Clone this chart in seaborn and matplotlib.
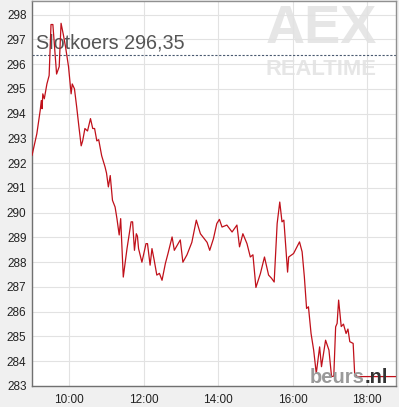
import matplotlib
matplotlib.use("Agg")
import matplotlib.pyplot as plt
import seaborn as sns
import pandas as pd

# ---- data (time in decimal hours, AEX index value) ----
times = [9.00, 9.13, 9.22, 9.25, 9.27, 9.29, 9.33, 9.40, 9.46, 9.51, 9.56,
         9.66, 9.73, 9.78, 9.84, 9.90, 9.98, 10.05, 10.08, 10.14, 10.20,
         10.26, 10.32, 10.36, 10.42, 10.49, 10.57, 10.63, 10.68, 10.74,
         10.79, 10.87, 10.96, 11.00, 11.05, 11.10, 11.16, 11.23, 11.28,
         11.34, 11.38, 11.45, 11.55, 11.66, 11.70, 11.75, 11.80, 11.83,
         11.86, 11.95, 12.06, 12.10, 12.17, 12.22, 12.28, 12.35, 12.42,
         12.49, 12.58, 12.65, 12.76, 12.82, 12.98, 13.05, 13.16, 13.29,
         13.41, 13.52, 13.70, 13.77, 13.87, 13.96, 14.03, 14.10, 14.23,
         14.37, 14.50, 14.57, 14.66, 14.77, 14.86, 14.93, 15.01, 15.13,
         15.24, 15.35, 15.43, 15.50, 15.58, 15.65, 15.71, 15.76, 15.86,
         15.89, 16.02, 16.18, 16.25, 16.31, 16.37, 16.42, 16.49, 16.56,
         16.63, 16.72, 16.77, 16.88, 16.97, 17.04, 17.10, 17.15, 17.19,
         17.23, 17.30, 17.36, 17.43, 17.48, 17.53, 17.62, 17.66, 17.73,
         18.76]
values = [292.31, 293.19, 294.13, 294.53, 294.20, 294.80, 294.60, 295.20,
          295.54, 297.60, 297.60, 295.60, 295.90, 297.65, 297.20, 296.70,
          295.90, 294.80, 295.20, 295.00, 294.26, 293.46, 292.70, 292.90,
          293.40, 293.30, 293.80, 293.40, 293.40, 292.90, 292.95, 292.30,
          291.85, 291.60, 291.04, 291.50, 290.50, 290.23, 289.76, 289.10,
          289.76, 287.40, 288.55, 289.63, 289.63, 288.48, 289.15, 289.05,
          288.55, 288.00, 288.75, 288.75, 287.88, 288.55, 288.08, 287.48,
          287.55, 287.27, 287.95, 288.35, 289.02, 288.48, 288.90, 288.00,
          288.30, 288.80, 289.70, 289.15, 288.80, 288.48, 288.95, 289.56,
          289.73, 289.42, 289.50, 289.22, 289.50, 288.62, 289.15, 288.75,
          288.21, 288.30, 286.98, 287.54, 288.21, 287.48, 287.35, 287.20,
          289.56, 290.43, 289.63, 289.70, 287.60, 288.21, 288.35, 288.82,
          288.42, 287.41, 286.13, 286.20, 285.12, 284.45, 283.51, 284.58,
          283.78, 284.85, 284.45, 283.38, 283.40, 285.39, 285.53, 286.47,
          285.40, 285.50, 285.12, 285.30, 284.79, 284.72, 283.51, 283.38,
          283.38]

close_label = "Slotkoers 296,35"
close_value = 296.35
y_ticks = [283, 284, 285, 286, 287, 288, 289, 290, 291, 292, 293, 294, 295, 296, 297, 298]
x_ticks = [10, 12, 14, 16, 18]
x_tick_labels = ["10:00", "12:00", "14:00", "16:00", "18:00"]

df = pd.DataFrame({"time": times, "value": values})

sns.set_theme(style="white")
plt.rcParams["font.family"] = ["Liberation Sans", "DejaVu Sans"]

fig = plt.figure(figsize=(3.99, 4.07), dpi=100, facecolor="#f0f0f0")
ax = fig.add_axes([32 / 399, 1 - 386 / 407, (396 - 32) / 399, (386 - 1) / 407])
ax.set_facecolor("white")

# watermark
ax.text(0.795, 0.928, "AEX", transform=ax.transAxes, ha="center", va="center",
        fontsize=39, fontweight="bold", color="#e6e6e6", zorder=0)
ax.text(0.795, 0.823, "REALTIME", transform=ax.transAxes, ha="center", va="center",
        fontsize=15.8, fontweight="bold", color="#e6e6e6", zorder=0)

sns.lineplot(data=df, x="time", y="value", ax=ax, color="#c0101a",
             linewidth=0.9, zorder=3)

ax.axhline(close_value, color="#4a5a70", linestyle=(0, (2, 1.5)), linewidth=0.8, zorder=2)
ax.text(9.12, close_value + 0.12, close_label, fontsize=14.2, color="#555555",
        ha="left", va="bottom", zorder=1)

ax.set_xlim(9.0, 18.77)
ax.set_ylim(283, 298.55)
ax.set_xticks(x_ticks)
ax.set_xticklabels(x_tick_labels)
ax.set_yticks(y_ticks)
ax.grid(True, color="#e2e2e2", linewidth=0.8)
ax.set_axisbelow(True)
ax.set_xlabel("")
ax.set_ylabel("")
ax.tick_params(axis="both", labelsize=8.5, labelcolor="#222222", length=0, pad=4)
ax.tick_params(axis="x", pad=6)

for side in ["left", "bottom"]:
    ax.spines[side].set_color("#707070")
    ax.spines[side].set_linewidth(1.0)
for side in ["top", "right"]:
    ax.spines[side].set_color("#909090")
    ax.spines[side].set_linewidth(1.0)

# beurs.nl logo
t1 = ax.text(0.764, 0.009, "beurs", transform=ax.transAxes, ha="left", va="baseline",
             fontsize=14.5, fontweight="bold", color="#9a9a9a", zorder=4)
ax.annotate(".nl", xy=(1, 0), xycoords=t1, xytext=(0, 0), textcoords="offset points",
            ha="left", va="bottom", fontsize=14.5, fontweight="bold",
            color="#333333", zorder=4)

fig.savefig("out.png", dpi=100, facecolor=fig.get_facecolor())
